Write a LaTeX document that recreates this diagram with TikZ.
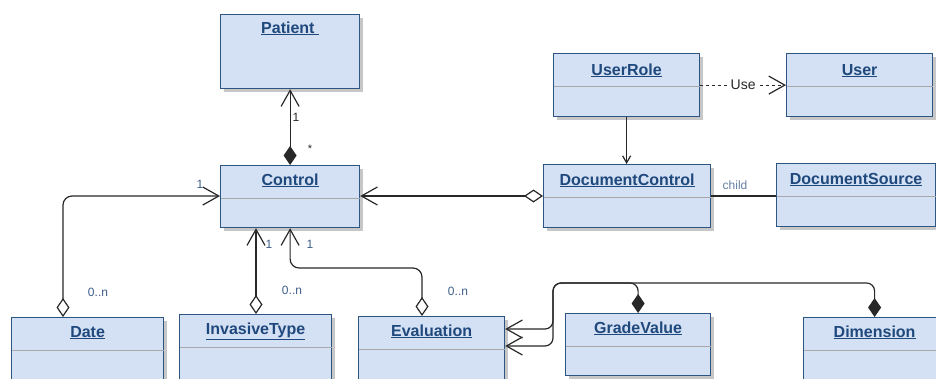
\documentclass[tikz,border=0pt]{standalone}
\usepackage{fontspec}
\setmainfont{Liberation Sans}
\usetikzlibrary{arrows.meta,shadows,positioning}

\definecolor{boxfill}{RGB}{212,224,243}
\definecolor{boxline}{RGB}{46,84,130}
\definecolor{titleblue}{RGB}{31,73,125}
\definecolor{multblue}{RGB}{62,94,138}
\definecolor{sepgray}{RGB}{168,168,168}
\definecolor{linegray}{RGB}{40,40,40}

\tikzset{
  classbox/.style={draw=boxline, line width=1.2pt, fill=boxfill, rectangle,
    anchor=north west, inner sep=0pt,
    drop shadow={shadow xshift=3pt, shadow yshift=-3pt, fill=black!22, opacity=1}},
  classname/.style={font=\fontsize{16}{19}\selectfont\bfseries, text=titleblue, anchor=base},
  sepline/.style={draw=sepgray, line width=1pt},
  assoc/.style={draw=linegray, line width=1.2pt},
  mult/.style={font=\fontsize{12}{14}\selectfont, text=multblue, inner sep=0pt},
  odiam/.tip={Diamond[open,fill=white,length=19pt,width=13pt]},
  fdiam/.tip={Diamond[length=19pt,width=13pt]},
  obarb/.tip={Straight Barb[length=16pt,width=18pt]},
}

\begin{document}
\begin{tikzpicture}[x=1pt,y=-1pt]

\useasboundingbox (0,0) rectangle (936,378);
\clip (0,0) rectangle (936,378);

% classes
\node[classbox, minimum width=139pt, minimum height=74pt] (patient) at (220,14) {};
\node[classbox, minimum width=139pt, minimum height=62pt] (control) at (220,165) {};
\node[classbox, minimum width=146pt, minimum height=63pt] (userrole) at (553,53) {};
\node[classbox, minimum width=146pt, minimum height=63pt] (user) at (786,53) {};
\node[classbox, minimum width=167pt, minimum height=63pt] (doccontrol) at (543,164) {};
\node[classbox, minimum width=159pt, minimum height=63pt] (docsource) at (776,163) {};
\node[classbox, minimum width=152pt, minimum height=80pt] (date) at (11,317) {};
\node[classbox, minimum width=152pt, minimum height=80pt] (invasive) at (179,314) {};
\node[classbox, minimum width=146pt, minimum height=80pt] (evaluation) at (358,316) {};
\node[classbox, minimum width=145pt, minimum height=62pt] (gradevalue) at (565,313) {};
\node[classbox, minimum width=142pt, minimum height=80pt] (dimension) at (803,317) {};

% class names
\node[classname] (patientname) at ([yshift=-19pt]patient.north) {\underline{Patient\ }};
\node[classname] (controlname) at ([yshift=-20pt]control.north) {\underline{Control}};
\node[classname] (userrolename) at ([yshift=-22pt]userrole.north) {\underline{UserRole}};
\node[classname] (username) at ([yshift=-22pt]user.north) {\underline{User}};
\node[classname] (doccontrolname) at ([yshift=-21pt]doccontrol.north) {\underline{DocumentControl}};
\node[classname] (docsourcename) at ([yshift=-21pt]docsource.north) {\underline{DocumentSource}};
\node[classname] (datename) at ([yshift=-20pt]date.north) {\underline{Date}};
\node[classname] (invasivename) at ([yshift=-20pt]invasive.north) {\underline{InvasiveType}};
\node[classname] (evaluationname) at ([yshift=-20pt]evaluation.north) {\underline{Evaluation}};
\node[classname] (gradevaluename) at ([yshift=-20pt]gradevalue.north) {\underline{GradeValue}};
\node[classname] (dimensionname) at ([yshift=-20pt]dimension.north) {\underline{Dimension}};

% compartment lines
\foreach \c in {control,userrole,user,doccontrol,docsource,date,invasive,evaluation,gradevalue,dimension}
  \draw[sepline] ([xshift=0.7pt,yshift=-33.5pt]\c.north west) -- ([xshift=-0.7pt,yshift=-33.5pt]\c.north east);

% Patient - Control
\draw[assoc, fdiam-obarb] (control.north) -- (patient.south);
\node[font=\fontsize{12}{14}\selectfont, text=linegray, inner sep=0pt] (patientone) at (296,117) {1};
\node[font=\fontsize{11}{13}\selectfont, text=linegray, inner sep=0pt] (patientstar) at (310,149) {*};

% UserRole
\draw[assoc, -{Straight Barb[length=7pt,width=8pt]}] (userrole.south) -- (userrole.south |- doccontrol.north);
\draw[assoc, dash pattern=on 3pt off 3pt, -obarb] (userrole.east) -- (user.west)
  node[midway, fill=white, inner sep=1pt, font=\fontsize{14}{16}\selectfont, text=linegray] (uselabel) {Use};

% DocumentControl
\draw[assoc, odiam-obarb] ([yshift=-32pt]doccontrol.north west) -- ([yshift=-32pt]doccontrol.north west -| control.east);
\draw[assoc] ([yshift=-32pt]doccontrol.north east) -- ([yshift=-32pt]doccontrol.north east -| docsource.west);
\node[mult, text=multblue!80] (childlabel) at (735,185) {child};

% Date, InvasiveType, Evaluation - Control
\draw[assoc, rounded corners=9pt, odiam-obarb] ([xshift=52pt]date.north west) |- ([yshift=-31pt]control.north west);
\node[mult] (dateone) at (200,184) {1};
\node[mult] (datemany) at (98,292) {0..n};

\draw[assoc, odiam-obarb] ([xshift=77pt]invasive.north west) -- ([xshift=77pt]invasive.north west |- control.south);
\node[mult] (invasiveone) at (269,244) {1};
\node[mult] (invasivemany) at (292,290) {0..n};

\draw[assoc, rounded corners=9pt, odiam-obarb] ([xshift=64pt]evaluation.north west) -- ++(0,-48) -| (control.south);
\node[mult] (evaluationone) at (310,244) {1};
\node[mult] (evaluationmany) at (458,291) {0..n};

% GradeValue, Dimension - Evaluation
\draw[assoc, rounded corners=8pt, fdiam-obarb] (gradevalue.north) |- (553,283) |- ([yshift=-13pt]evaluation.north east);
\draw[assoc, rounded corners=8pt, fdiam-obarb] (dimension.north) |- (553,283) |- ([yshift=-30pt]evaluation.north east);

\end{tikzpicture}
\end{document}
